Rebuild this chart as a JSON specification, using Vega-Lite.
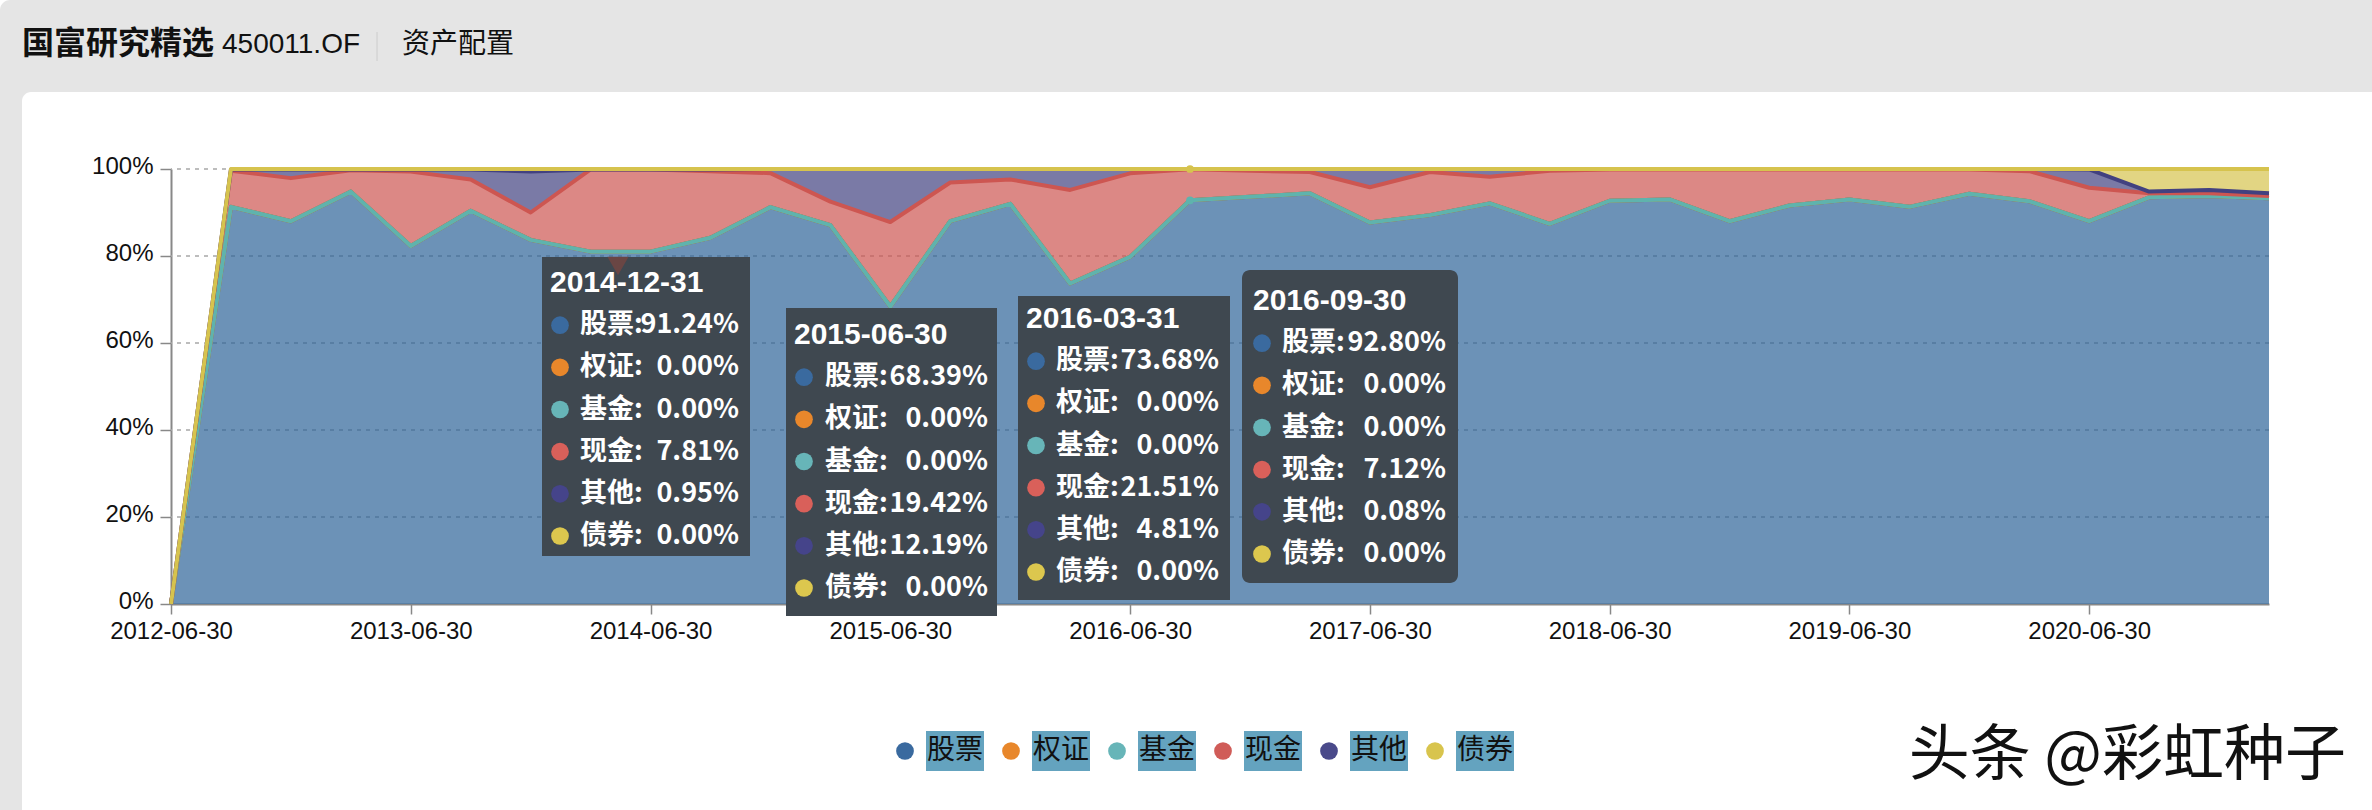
{
  "$schema": "https://vega.github.io/schema/vega-lite/v6.json",
  "description": "国富研究精选 450011.OF 资产配置",
  "autosize": {"type": "none"},
  "padding": {"left": 171, "top": 169, "right": 103, "bottom": 206},
  "width": 2098,
  "height": 435,
  "background": "#ffffff",
  "config": {"view": {"stroke": null}, "text": {"font": "Noto Sans CJK SC"}},
  "datasets": {
    "holdings": [
      {"date":"2012-06-30","series":"股票","no":1,"value":0},{"date":"2012-06-30","series":"权证","no":2,"value":0},{"date":"2012-06-30","series":"基金","no":3,"value":0},{"date":"2012-06-30","series":"现金","no":4,"value":0},{"date":"2012-06-30","series":"其他","no":5,"value":0},{"date":"2012-06-30","series":"债券","no":6,"value":0},
      {"date":"2012-09-30","series":"股票","no":1,"value":91.3},{"date":"2012-09-30","series":"权证","no":2,"value":0},{"date":"2012-09-30","series":"基金","no":3,"value":0},{"date":"2012-09-30","series":"现金","no":4,"value":8.3},{"date":"2012-09-30","series":"其他","no":5,"value":0.3},{"date":"2012-09-30","series":"债券","no":6,"value":0.1},
      {"date":"2012-12-31","series":"股票","no":1,"value":88.0},{"date":"2012-12-31","series":"权证","no":2,"value":0},{"date":"2012-12-31","series":"基金","no":3,"value":0},{"date":"2012-12-31","series":"现金","no":4,"value":9.9},{"date":"2012-12-31","series":"其他","no":5,"value":2.0},{"date":"2012-12-31","series":"债券","no":6,"value":0.1},
      {"date":"2013-03-31","series":"股票","no":1,"value":94.8},{"date":"2013-03-31","series":"权证","no":2,"value":0},{"date":"2013-03-31","series":"基金","no":3,"value":0},{"date":"2013-03-31","series":"现金","no":4,"value":4.9},{"date":"2013-03-31","series":"其他","no":5,"value":0.2},{"date":"2013-03-31","series":"债券","no":6,"value":0.1},
      {"date":"2013-06-30","series":"股票","no":1,"value":82.3},{"date":"2013-06-30","series":"权证","no":2,"value":0},{"date":"2013-06-30","series":"基金","no":3,"value":0},{"date":"2013-06-30","series":"现金","no":4,"value":17.1},{"date":"2013-06-30","series":"其他","no":5,"value":0.5},{"date":"2013-06-30","series":"债券","no":6,"value":0.1},
      {"date":"2013-09-30","series":"股票","no":1,"value":90.4},{"date":"2013-09-30","series":"权证","no":2,"value":0},{"date":"2013-09-30","series":"基金","no":3,"value":0},{"date":"2013-09-30","series":"现金","no":4,"value":7.2},{"date":"2013-09-30","series":"其他","no":5,"value":2.3},{"date":"2013-09-30","series":"债券","no":6,"value":0.1},
      {"date":"2013-12-31","series":"股票","no":1,"value":83.7},{"date":"2013-12-31","series":"权证","no":2,"value":0},{"date":"2013-12-31","series":"基金","no":3,"value":0},{"date":"2013-12-31","series":"现金","no":4,"value":6.3},{"date":"2013-12-31","series":"其他","no":5,"value":9.4},{"date":"2013-12-31","series":"债券","no":6,"value":0.6},
      {"date":"2014-03-31","series":"股票","no":1,"value":81.0},{"date":"2014-03-31","series":"权证","no":2,"value":0},{"date":"2014-03-31","series":"基金","no":3,"value":0},{"date":"2014-03-31","series":"现金","no":4,"value":18.9},{"date":"2014-03-31","series":"其他","no":5,"value":0},{"date":"2014-03-31","series":"债券","no":6,"value":0.1},
      {"date":"2014-06-30","series":"股票","no":1,"value":81.0},{"date":"2014-06-30","series":"权证","no":2,"value":0},{"date":"2014-06-30","series":"基金","no":3,"value":0},{"date":"2014-06-30","series":"现金","no":4,"value":18.9},{"date":"2014-06-30","series":"其他","no":5,"value":0},{"date":"2014-06-30","series":"债券","no":6,"value":0.1},
      {"date":"2014-09-30","series":"股票","no":1,"value":84.2},{"date":"2014-09-30","series":"权证","no":2,"value":0},{"date":"2014-09-30","series":"基金","no":3,"value":0},{"date":"2014-09-30","series":"现金","no":4,"value":15.3},{"date":"2014-09-30","series":"其他","no":5,"value":0.4},{"date":"2014-09-30","series":"债券","no":6,"value":0.1},
      {"date":"2014-12-31","series":"股票","no":1,"value":91.24},{"date":"2014-12-31","series":"权证","no":2,"value":0},{"date":"2014-12-31","series":"基金","no":3,"value":0},{"date":"2014-12-31","series":"现金","no":4,"value":7.81},{"date":"2014-12-31","series":"其他","no":5,"value":0.95},{"date":"2014-12-31","series":"债券","no":6,"value":0},
      {"date":"2015-03-31","series":"股票","no":1,"value":87.1},{"date":"2015-03-31","series":"权证","no":2,"value":0},{"date":"2015-03-31","series":"基金","no":3,"value":0},{"date":"2015-03-31","series":"现金","no":4,"value":5.4},{"date":"2015-03-31","series":"其他","no":5,"value":7.5},{"date":"2015-03-31","series":"债券","no":6,"value":0},
      {"date":"2015-06-30","series":"股票","no":1,"value":68.39},{"date":"2015-06-30","series":"权证","no":2,"value":0},{"date":"2015-06-30","series":"基金","no":3,"value":0},{"date":"2015-06-30","series":"现金","no":4,"value":19.42},{"date":"2015-06-30","series":"其他","no":5,"value":12.19},{"date":"2015-06-30","series":"债券","no":6,"value":0},
      {"date":"2015-09-30","series":"股票","no":1,"value":88.0},{"date":"2015-09-30","series":"权证","no":2,"value":0},{"date":"2015-09-30","series":"基金","no":3,"value":0},{"date":"2015-09-30","series":"现金","no":4,"value":8.9},{"date":"2015-09-30","series":"其他","no":5,"value":3.1},{"date":"2015-09-30","series":"债券","no":6,"value":0},
      {"date":"2015-12-31","series":"股票","no":1,"value":92.0},{"date":"2015-12-31","series":"权证","no":2,"value":0},{"date":"2015-12-31","series":"基金","no":3,"value":0},{"date":"2015-12-31","series":"现金","no":4,"value":5.6},{"date":"2015-12-31","series":"其他","no":5,"value":2.4},{"date":"2015-12-31","series":"债券","no":6,"value":0},
      {"date":"2016-03-31","series":"股票","no":1,"value":73.68},{"date":"2016-03-31","series":"权证","no":2,"value":0},{"date":"2016-03-31","series":"基金","no":3,"value":0},{"date":"2016-03-31","series":"现金","no":4,"value":21.51},{"date":"2016-03-31","series":"其他","no":5,"value":4.81},{"date":"2016-03-31","series":"债券","no":6,"value":0},
      {"date":"2016-06-30","series":"股票","no":1,"value":79.8},{"date":"2016-06-30","series":"权证","no":2,"value":0},{"date":"2016-06-30","series":"基金","no":3,"value":0},{"date":"2016-06-30","series":"现金","no":4,"value":19.2},{"date":"2016-06-30","series":"其他","no":5,"value":1.0},{"date":"2016-06-30","series":"债券","no":6,"value":0},
      {"date":"2016-09-30","series":"股票","no":1,"value":92.8},{"date":"2016-09-30","series":"权证","no":2,"value":0},{"date":"2016-09-30","series":"基金","no":3,"value":0},{"date":"2016-09-30","series":"现金","no":4,"value":7.12},{"date":"2016-09-30","series":"其他","no":5,"value":0.08},{"date":"2016-09-30","series":"债券","no":6,"value":0},
      {"date":"2016-12-31","series":"股票","no":1,"value":93.6},{"date":"2016-12-31","series":"权证","no":2,"value":0},{"date":"2016-12-31","series":"基金","no":3,"value":0},{"date":"2016-12-31","series":"现金","no":4,"value":6.0},{"date":"2016-12-31","series":"其他","no":5,"value":0.4},{"date":"2016-12-31","series":"债券","no":6,"value":0},
      {"date":"2017-03-31","series":"股票","no":1,"value":94.4},{"date":"2017-03-31","series":"权证","no":2,"value":0},{"date":"2017-03-31","series":"基金","no":3,"value":0},{"date":"2017-03-31","series":"现金","no":4,"value":4.9},{"date":"2017-03-31","series":"其他","no":5,"value":0.7},{"date":"2017-03-31","series":"债券","no":6,"value":0},
      {"date":"2017-06-30","series":"股票","no":1,"value":87.7},{"date":"2017-06-30","series":"权证","no":2,"value":0},{"date":"2017-06-30","series":"基金","no":3,"value":0},{"date":"2017-06-30","series":"现金","no":4,"value":8.1},{"date":"2017-06-30","series":"其他","no":5,"value":4.2},{"date":"2017-06-30","series":"债券","no":6,"value":0},
      {"date":"2017-09-30","series":"股票","no":1,"value":89.4},{"date":"2017-09-30","series":"权证","no":2,"value":0},{"date":"2017-09-30","series":"基金","no":3,"value":0},{"date":"2017-09-30","series":"现金","no":4,"value":9.9},{"date":"2017-09-30","series":"其他","no":5,"value":0.7},{"date":"2017-09-30","series":"债券","no":6,"value":0},
      {"date":"2017-12-31","series":"股票","no":1,"value":92.1},{"date":"2017-12-31","series":"权证","no":2,"value":0},{"date":"2017-12-31","series":"基金","no":3,"value":0},{"date":"2017-12-31","series":"现金","no":4,"value":6.1},{"date":"2017-12-31","series":"其他","no":5,"value":1.8},{"date":"2017-12-31","series":"债券","no":6,"value":0},
      {"date":"2018-03-31","series":"股票","no":1,"value":87.4},{"date":"2018-03-31","series":"权证","no":2,"value":0},{"date":"2018-03-31","series":"基金","no":3,"value":0},{"date":"2018-03-31","series":"现金","no":4,"value":12.2},{"date":"2018-03-31","series":"其他","no":5,"value":0.4},{"date":"2018-03-31","series":"债券","no":6,"value":0},
      {"date":"2018-06-30","series":"股票","no":1,"value":92.7},{"date":"2018-06-30","series":"权证","no":2,"value":0},{"date":"2018-06-30","series":"基金","no":3,"value":0},{"date":"2018-06-30","series":"现金","no":4,"value":7.2},{"date":"2018-06-30","series":"其他","no":5,"value":0.1},{"date":"2018-06-30","series":"债券","no":6,"value":0},
      {"date":"2018-09-30","series":"股票","no":1,"value":93.0},{"date":"2018-09-30","series":"权证","no":2,"value":0},{"date":"2018-09-30","series":"基金","no":3,"value":0},{"date":"2018-09-30","series":"现金","no":4,"value":6.9},{"date":"2018-09-30","series":"其他","no":5,"value":0.1},{"date":"2018-09-30","series":"债券","no":6,"value":0},
      {"date":"2018-12-31","series":"股票","no":1,"value":88.0},{"date":"2018-12-31","series":"权证","no":2,"value":0},{"date":"2018-12-31","series":"基金","no":3,"value":0},{"date":"2018-12-31","series":"现金","no":4,"value":11.9},{"date":"2018-12-31","series":"其他","no":5,"value":0.1},{"date":"2018-12-31","series":"债券","no":6,"value":0},
      {"date":"2019-03-31","series":"股票","no":1,"value":91.6},{"date":"2019-03-31","series":"权证","no":2,"value":0},{"date":"2019-03-31","series":"基金","no":3,"value":0},{"date":"2019-03-31","series":"现金","no":4,"value":8.3},{"date":"2019-03-31","series":"其他","no":5,"value":0.1},{"date":"2019-03-31","series":"债券","no":6,"value":0},
      {"date":"2019-06-30","series":"股票","no":1,"value":93.0},{"date":"2019-06-30","series":"权证","no":2,"value":0},{"date":"2019-06-30","series":"基金","no":3,"value":0},{"date":"2019-06-30","series":"现金","no":4,"value":6.9},{"date":"2019-06-30","series":"其他","no":5,"value":0.1},{"date":"2019-06-30","series":"债券","no":6,"value":0},
      {"date":"2019-09-30","series":"股票","no":1,"value":91.3},{"date":"2019-09-30","series":"权证","no":2,"value":0},{"date":"2019-09-30","series":"基金","no":3,"value":0},{"date":"2019-09-30","series":"现金","no":4,"value":8.6},{"date":"2019-09-30","series":"其他","no":5,"value":0.1},{"date":"2019-09-30","series":"债券","no":6,"value":0},
      {"date":"2019-12-31","series":"股票","no":1,"value":94.3},{"date":"2019-12-31","series":"权证","no":2,"value":0},{"date":"2019-12-31","series":"基金","no":3,"value":0},{"date":"2019-12-31","series":"现金","no":4,"value":5.6},{"date":"2019-12-31","series":"其他","no":5,"value":0.1},{"date":"2019-12-31","series":"债券","no":6,"value":0},
      {"date":"2020-03-31","series":"股票","no":1,"value":92.6},{"date":"2020-03-31","series":"权证","no":2,"value":0},{"date":"2020-03-31","series":"基金","no":3,"value":0},{"date":"2020-03-31","series":"现金","no":4,"value":6.9},{"date":"2020-03-31","series":"其他","no":5,"value":0.5},{"date":"2020-03-31","series":"债券","no":6,"value":0},
      {"date":"2020-06-30","series":"股票","no":1,"value":88.0},{"date":"2020-06-30","series":"权证","no":2,"value":0},{"date":"2020-06-30","series":"基金","no":3,"value":0},{"date":"2020-06-30","series":"现金","no":4,"value":7.7},{"date":"2020-06-30","series":"其他","no":5,"value":4.2},{"date":"2020-06-30","series":"债券","no":6,"value":0.1},
      {"date":"2020-09-30","series":"股票","no":1,"value":93.5},{"date":"2020-09-30","series":"权证","no":2,"value":0},{"date":"2020-09-30","series":"基金","no":3,"value":0},{"date":"2020-09-30","series":"现金","no":4,"value":0.9},{"date":"2020-09-30","series":"其他","no":5,"value":0.4},{"date":"2020-09-30","series":"债券","no":6,"value":5.2},
      {"date":"2020-12-31","series":"股票","no":1,"value":93.8},{"date":"2020-12-31","series":"权证","no":2,"value":0},{"date":"2020-12-31","series":"基金","no":3,"value":0},{"date":"2020-12-31","series":"现金","no":4,"value":0.6},{"date":"2020-12-31","series":"其他","no":5,"value":0.8},{"date":"2020-12-31","series":"债券","no":6,"value":4.8},
      {"date":"2021-03-31","series":"股票","no":1,"value":93.3},{"date":"2021-03-31","series":"权证","no":2,"value":0},{"date":"2021-03-31","series":"基金","no":3,"value":0},{"date":"2021-03-31","series":"现金","no":4,"value":0.5},{"date":"2021-03-31","series":"其他","no":5,"value":0.6},{"date":"2021-03-31","series":"债券","no":6,"value":5.6}
    ],
    "tips": [
      {"date":"2014-12-31","line":0,"title":"2014-12-31"},
      {"date":"2014-12-31","line":1,"series":"股票","label":"股票:","pct":"91.24%"},{"date":"2014-12-31","line":2,"series":"权证","label":"权证:","pct":"0.00%"},{"date":"2014-12-31","line":3,"series":"基金","label":"基金:","pct":"0.00%"},{"date":"2014-12-31","line":4,"series":"现金","label":"现金:","pct":"7.81%"},{"date":"2014-12-31","line":5,"series":"其他","label":"其他:","pct":"0.95%"},{"date":"2014-12-31","line":6,"series":"债券","label":"债券:","pct":"0.00%"},
      {"date":"2015-06-30","line":0,"title":"2015-06-30"},
      {"date":"2015-06-30","line":1,"series":"股票","label":"股票:","pct":"68.39%"},{"date":"2015-06-30","line":2,"series":"权证","label":"权证:","pct":"0.00%"},{"date":"2015-06-30","line":3,"series":"基金","label":"基金:","pct":"0.00%"},{"date":"2015-06-30","line":4,"series":"现金","label":"现金:","pct":"19.42%"},{"date":"2015-06-30","line":5,"series":"其他","label":"其他:","pct":"12.19%"},{"date":"2015-06-30","line":6,"series":"债券","label":"债券:","pct":"0.00%"},
      {"date":"2016-03-31","line":0,"title":"2016-03-31"},
      {"date":"2016-03-31","line":1,"series":"股票","label":"股票:","pct":"73.68%"},{"date":"2016-03-31","line":2,"series":"权证","label":"权证:","pct":"0.00%"},{"date":"2016-03-31","line":3,"series":"基金","label":"基金:","pct":"0.00%"},{"date":"2016-03-31","line":4,"series":"现金","label":"现金:","pct":"21.51%"},{"date":"2016-03-31","line":5,"series":"其他","label":"其他:","pct":"4.81%"},{"date":"2016-03-31","line":6,"series":"债券","label":"债券:","pct":"0.00%"},
      {"date":"2016-09-30","line":0,"title":"2016-09-30"},
      {"date":"2016-09-30","line":1,"series":"股票","label":"股票:","pct":"92.80%"},{"date":"2016-09-30","line":2,"series":"权证","label":"权证:","pct":"0.00%"},{"date":"2016-09-30","line":3,"series":"基金","label":"基金:","pct":"0.00%"},{"date":"2016-09-30","line":4,"series":"现金","label":"现金:","pct":"7.12%"},{"date":"2016-09-30","line":5,"series":"其他","label":"其他:","pct":"0.08%"},{"date":"2016-09-30","line":6,"series":"债券","label":"债券:","pct":"0.00%"}
    ],
    "legend": [{"series":"股票"},{"series":"权证"},{"series":"基金"},{"series":"现金"},{"series":"其他"},{"series":"债券"}],
    "ticks": [{"tick":20},{"tick":40},{"tick":60},{"tick":80},{"tick":100}],
    "one": [{"n":1}]
  },
  "layer": [
    {
      "data": {"name": "one"},
      "encoding": {
        "x": {"datum": 0, "type": "quantitative", "scale": {"domain": [0, 2372], "range": [-171, 2201]}, "axis": null},
        "y": {"datum": 0, "type": "quantitative", "scale": {"domain": [0, 810], "range": [-169, 641]}, "axis": null}
      },
      "layer": [
        {"mark": {"type": "rect", "fill": "#e5e5e5", "cornerRadiusTopLeft": 10}, "encoding": {"x": {"datum": 0, "type": "quantitative"}, "x2": {"datum": 2372}, "y": {"datum": 0, "type": "quantitative"}, "y2": {"datum": 100}}},
        {"mark": {"type": "rect", "fill": "#e5e5e5"}, "encoding": {"x": {"datum": 0, "type": "quantitative"}, "x2": {"datum": 34}, "y": {"datum": 20, "type": "quantitative"}, "y2": {"datum": 810}}},
        {"mark": {"type": "rect", "fill": "#ffffff", "cornerRadius": 9}, "encoding": {"x": {"datum": 22, "type": "quantitative"}, "x2": {"datum": 80}, "y": {"datum": 92, "type": "quantitative"}, "y2": {"datum": 140}}},
        {"mark": {"type": "rect", "fill": "#ffffff"}, "encoding": {"x": {"datum": 22, "type": "quantitative"}, "x2": {"datum": 60}, "y": {"datum": 110, "type": "quantitative"}, "y2": {"datum": 810}}},
        {"mark": {"type": "rect", "fill": "#ffffff"}, "encoding": {"x": {"datum": 40, "type": "quantitative"}, "x2": {"datum": 2372}, "y": {"datum": 92, "type": "quantitative"}, "y2": {"datum": 120}}},
        {"mark": {"type": "text", "text": "国富研究精选", "align": "left", "baseline": "middle", "fontSize": 32, "fontWeight": "bold", "color": "#111111"}, "encoding": {"x": {"datum": 22, "type": "quantitative"}, "y": {"datum": 44, "type": "quantitative"}}},
        {"mark": {"type": "text", "text": "450011.OF", "align": "left", "baseline": "middle", "fontSize": 28, "color": "#111111", "font": "Liberation Sans"}, "encoding": {"x": {"datum": 222, "type": "quantitative"}, "y": {"datum": 45, "type": "quantitative"}}},
        {"mark": {"type": "rule", "color": "#cccccc", "strokeWidth": 1}, "encoding": {"x": {"datum": 377, "type": "quantitative"}, "y": {"datum": 32, "type": "quantitative"}, "y2": {"datum": 61}}},
        {"mark": {"type": "text", "text": "资产配置", "align": "left", "baseline": "middle", "fontSize": 28, "color": "#111111"}, "encoding": {"x": {"datum": 402, "type": "quantitative"}, "y": {"datum": 45, "type": "quantitative"}}},
        {"mark": {"type": "text", "text": "头条 @彩虹种子", "align": "right", "baseline": "middle", "fontSize": 61, "color": "#111111"}, "encoding": {"x": {"datum": 2346, "type": "quantitative"}, "y": {"datum": 757, "type": "quantitative"}}}
      ]
    },
    {
      "data": {"name": "ticks"},
      "mark": {"type": "rule", "color": "#a8a8a8", "strokeDash": [4, 5], "strokeWidth": 1.5},
      "encoding": {
        "y": {"field": "tick", "type": "quantitative", "scale": {"domain": [0, 100], "nice": false}, "axis": null}
      }
    },
    {
      "data": {"name": "holdings"},
      "transform": [
        {"stack": "value", "groupby": ["date"], "sort": [{"field": "no", "order": "ascending"}], "as": ["y0", "y1"]}
      ],
      "encoding": {
        "x": {
          "field": "date",
          "type": "ordinal",
          "scale": {"type": "point", "padding": 0},
          "axis": {
            "title": null,
            "values": ["2012-06-30","2013-06-30","2014-06-30","2015-06-30","2016-06-30","2017-06-30","2018-06-30","2019-06-30","2020-06-30"],
            "labelAngle": 0,
            "labelFont": "Liberation Sans",
            "labelFontSize": 24,
            "labelColor": "#111111",
            "labelPadding": 5,
            "labelOverlap": false,
            "labelBound": false,
            "tickColor": "#888888",
            "tickSize": 10,
            "tickWidth": 1.5,
            "domainColor": "#888888",
            "domainWidth": 2,
            "grid": false
          }
        },
        "y": {
          "field": "y1",
          "type": "quantitative",
          "scale": {"domain": [0, 100], "nice": false},
          "axis": {
            "title": null,
            "values": [0, 20, 40, 60, 80, 100],
            "labelExpr": "datum.value + '%'",
            "labelFont": "Liberation Sans",
            "labelFontSize": 24,
            "labelColor": "#111111",
            "labelPadding": 7,
            "labelOffset": -3,
            "tickColor": "#888888",
            "tickSize": 11,
            "tickWidth": 1.5,
            "domainColor": "#888888",
            "domainWidth": 2,
            "grid": false
          }
        },
        "color": {
          "field": "series",
          "type": "nominal",
          "scale": {
            "domain": ["股票","权证","基金","现金","其他","债券"],
            "range": ["#2e6498","#e8872b","#5fb3ad","#cd5651","#424180","#d6c34e"]
          },
          "legend": null
        }
      },
      "layer": [
        {"mark": {"type": "area", "opacity": 0.7, "line": false}, "encoding": {"y2": {"field": "y0"}}},
        {"mark": {"type": "line", "strokeWidth": 4, "strokeJoin": "round"}},
        {
          "transform": [{"filter": "datum.date == '2016-09-30' && (datum.series == '基金' || datum.series == '债券')"}],
          "mark": {"type": "circle", "size": 60, "opacity": 1}
        }
      ]
    },
    {
      "encoding": {
        "x": {"datum": 0, "type": "quantitative", "scale": {"domain": [0, 2372], "range": [-171, 2201]}, "axis": null},
        "y": {"datum": 0, "type": "quantitative", "scale": {"domain": [0, 810], "range": [-169, 641]}, "axis": null}
      },
      "layer": [
        {"data": {"name": "one"}, "mark": {"type": "rect", "fill": "#3f4850"}, "encoding": {"x": {"datum": 542, "type": "quantitative"}, "x2": {"datum": 750}, "y": {"datum": 257, "type": "quantitative"}, "y2": {"datum": 556}}},
        {"data": {"name": "one"}, "mark": {"type": "point", "shape": "triangle-down", "filled": true, "fill": "#6f4643", "opacity": 0.9, "size": 450}, "encoding": {"x": {"datum": 618, "type": "quantitative"}, "y": {"datum": 266, "type": "quantitative"}}},
        {"data": {"name": "one"}, "mark": {"type": "rect", "fill": "#3f4850"}, "encoding": {"x": {"datum": 786, "type": "quantitative"}, "x2": {"datum": 997}, "y": {"datum": 308, "type": "quantitative"}, "y2": {"datum": 616}}},
        {"data": {"name": "one"}, "mark": {"type": "rect", "fill": "#3f4850"}, "encoding": {"x": {"datum": 1018, "type": "quantitative"}, "x2": {"datum": 1230}, "y": {"datum": 296, "type": "quantitative"}, "y2": {"datum": 600}}},
        {"data": {"name": "one"}, "mark": {"type": "rect", "fill": "#3f4850", "cornerRadius": 8}, "encoding": {"x": {"datum": 1242, "type": "quantitative"}, "x2": {"datum": 1458}, "y": {"datum": 270, "type": "quantitative"}, "y2": {"datum": 583}}},
        {
          "data": {"name": "tips"},
          "transform": [{"filter": "datum.date == '2014-12-31'"}],
          "encoding": {
            "x": {"datum": 542, "type": "quantitative"},
            "y": {"datum": 283, "type": "quantitative"},
            "yOffset": {"field": "line", "type": "quantitative", "scale": {"domain": [0, 6], "range": [0, 253]}}
          },
          "layer": [
            {"transform": [{"filter": "datum.line == 0"}], "mark": {"type": "text", "align": "left", "baseline": "middle", "xOffset": 8, "fontSize": 30, "fontWeight": "bold", "color": "#ffffff", "font": "Liberation Sans"}, "encoding": {"text": {"field": "title"}}},
            {"transform": [{"filter": "datum.line > 0"}], "mark": {"type": "circle", "size": 314, "opacity": 1, "xOffset": 18}, "encoding": {"color": {"field": "series", "type": "nominal", "scale": {"domain": ["股票","权证","基金","现金","其他","债券"], "range": ["#3a6a9f","#e8872b","#67b5b8","#d9605a","#45448a","#dcc74e"]}, "legend": null}}},
            {"transform": [{"filter": "datum.line > 0"}], "mark": {"type": "text", "align": "left", "baseline": "middle", "xOffset": 38, "fontSize": 27, "fontWeight": "bold", "color": "#ffffff"}, "encoding": {"text": {"field": "label"}}},
            {"transform": [{"filter": "datum.line > 0"}], "mark": {"type": "text", "align": "right", "baseline": "middle", "xOffset": 197, "fontSize": 27, "fontWeight": "bold", "color": "#ffffff"}, "encoding": {"text": {"field": "pct"}}}
          ]
        },
        {
          "data": {"name": "tips"},
          "transform": [{"filter": "datum.date == '2015-06-30'"}],
          "encoding": {
            "x": {"datum": 786, "type": "quantitative"},
            "y": {"datum": 335, "type": "quantitative"},
            "yOffset": {"field": "line", "type": "quantitative", "scale": {"domain": [0, 6], "range": [0, 253]}}
          },
          "layer": [
            {"transform": [{"filter": "datum.line == 0"}], "mark": {"type": "text", "align": "left", "baseline": "middle", "xOffset": 8, "fontSize": 30, "fontWeight": "bold", "color": "#ffffff", "font": "Liberation Sans"}, "encoding": {"text": {"field": "title"}}},
            {"transform": [{"filter": "datum.line > 0"}], "mark": {"type": "circle", "size": 314, "opacity": 1, "xOffset": 18}, "encoding": {"color": {"field": "series", "type": "nominal", "scale": {"domain": ["股票","权证","基金","现金","其他","债券"], "range": ["#3a6a9f","#e8872b","#67b5b8","#d9605a","#45448a","#dcc74e"]}, "legend": null}}},
            {"transform": [{"filter": "datum.line > 0"}], "mark": {"type": "text", "align": "left", "baseline": "middle", "xOffset": 39, "fontSize": 27, "fontWeight": "bold", "color": "#ffffff"}, "encoding": {"text": {"field": "label"}}},
            {"transform": [{"filter": "datum.line > 0"}], "mark": {"type": "text", "align": "right", "baseline": "middle", "xOffset": 202, "fontSize": 27, "fontWeight": "bold", "color": "#ffffff"}, "encoding": {"text": {"field": "pct"}}}
          ]
        },
        {
          "data": {"name": "tips"},
          "transform": [{"filter": "datum.date == '2016-03-31'"}],
          "encoding": {
            "x": {"datum": 1018, "type": "quantitative"},
            "y": {"datum": 319, "type": "quantitative"},
            "yOffset": {"field": "line", "type": "quantitative", "scale": {"domain": [0, 6], "range": [0, 253]}}
          },
          "layer": [
            {"transform": [{"filter": "datum.line == 0"}], "mark": {"type": "text", "align": "left", "baseline": "middle", "xOffset": 8, "fontSize": 30, "fontWeight": "bold", "color": "#ffffff", "font": "Liberation Sans"}, "encoding": {"text": {"field": "title"}}},
            {"transform": [{"filter": "datum.line > 0"}], "mark": {"type": "circle", "size": 314, "opacity": 1, "xOffset": 18}, "encoding": {"color": {"field": "series", "type": "nominal", "scale": {"domain": ["股票","权证","基金","现金","其他","债券"], "range": ["#3a6a9f","#e8872b","#67b5b8","#d9605a","#45448a","#dcc74e"]}, "legend": null}}},
            {"transform": [{"filter": "datum.line > 0"}], "mark": {"type": "text", "align": "left", "baseline": "middle", "xOffset": 38, "fontSize": 27, "fontWeight": "bold", "color": "#ffffff"}, "encoding": {"text": {"field": "label"}}},
            {"transform": [{"filter": "datum.line > 0"}], "mark": {"type": "text", "align": "right", "baseline": "middle", "xOffset": 201, "fontSize": 27, "fontWeight": "bold", "color": "#ffffff"}, "encoding": {"text": {"field": "pct"}}}
          ]
        },
        {
          "data": {"name": "tips"},
          "transform": [{"filter": "datum.date == '2016-09-30'"}],
          "encoding": {
            "x": {"datum": 1242, "type": "quantitative"},
            "y": {"datum": 301, "type": "quantitative"},
            "yOffset": {"field": "line", "type": "quantitative", "scale": {"domain": [0, 6], "range": [0, 253]}}
          },
          "layer": [
            {"transform": [{"filter": "datum.line == 0"}], "mark": {"type": "text", "align": "left", "baseline": "middle", "xOffset": 11, "fontSize": 30, "fontWeight": "bold", "color": "#ffffff", "font": "Liberation Sans"}, "encoding": {"text": {"field": "title"}}},
            {"transform": [{"filter": "datum.line > 0"}], "mark": {"type": "circle", "size": 314, "opacity": 1, "xOffset": 20}, "encoding": {"color": {"field": "series", "type": "nominal", "scale": {"domain": ["股票","权证","基金","现金","其他","债券"], "range": ["#3a6a9f","#e8872b","#67b5b8","#d9605a","#45448a","#dcc74e"]}, "legend": null}}},
            {"transform": [{"filter": "datum.line > 0"}], "mark": {"type": "text", "align": "left", "baseline": "middle", "xOffset": 40, "fontSize": 27, "fontWeight": "bold", "color": "#ffffff"}, "encoding": {"text": {"field": "label"}}},
            {"transform": [{"filter": "datum.line > 0"}], "mark": {"type": "text", "align": "right", "baseline": "middle", "xOffset": 204, "fontSize": 27, "fontWeight": "bold", "color": "#ffffff"}, "encoding": {"text": {"field": "pct"}}}
          ]
        }
      ]
    },
    {
      "data": {"name": "legend"},
      "encoding": {
        "x": {
          "field": "series", "type": "ordinal",
          "scale": {"type": "point", "padding": 0, "domain": ["股票","权证","基金","现金","其他","债券"], "range": [734, 1264]},
          "axis": null
        },
        "y": {"datum": 751, "type": "quantitative", "scale": {"domain": [0, 810], "range": [-169, 641]}, "axis": null}
      },
      "layer": [
        {"mark": {"type": "rect", "fill": "#64a3bf", "width": 58, "height": 40, "xOffset": 50}},
        {
          "mark": {"type": "circle", "size": 314, "opacity": 1},
          "encoding": {
            "color": {
              "field": "series", "type": "nominal",
              "scale": {"domain": ["股票","权证","基金","现金","其他","债券"], "range": ["#3a6a9f","#e8872b","#67b5b8","#d05c58","#4a4a8a","#d8c44d"]},
              "legend": null
            }
          }
        },
        {
          "mark": {"type": "text", "align": "center", "baseline": "middle", "xOffset": 50, "fontSize": 28, "color": "#111111"},
          "encoding": {"text": {"field": "series"}}
        }
      ]
    }
  ],
  "resolve": {"scale": {"x": "independent", "y": "independent", "color": "independent"}, "axis": {"x": "independent", "y": "independent"}}
}
